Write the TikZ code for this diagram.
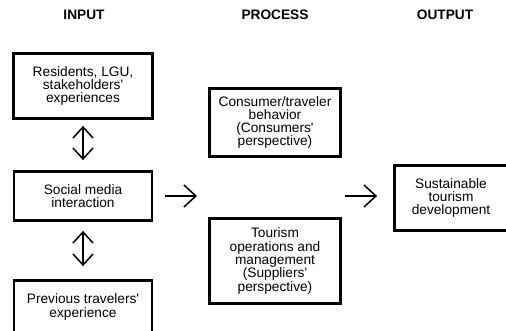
\documentclass[tikz,border=0pt]{standalone}
\usepackage{fontspec}
\setmainfont{Liberation Sans}
\usepackage{tikz}
\usetikzlibrary{arrows.meta,positioning}

\newcommand{\apos}{\textquotesingle}

\begin{document}
\begin{tikzpicture}[
  x=1pt, y=-1pt,
  every node/.style={font=\fontsize{13.7}{13.3}\selectfont},
  head/.style={font=\fontsize{13.7}{13.3}\selectfont\bfseries},
  box/.style={draw, line width=2.8pt, align=center, inner sep=0pt},
  arr/.style={-{Straight Barb[length=12pt, width=22pt]}, line width=1.5pt},
  dbl/.style={{Straight Barb[length=11pt, width=20pt]}-{Straight Barb[length=11pt, width=20pt]}, line width=1.5pt}
]
\useasboundingbox (0,0) rectangle (506,331);
\clip (0,0) rectangle (506,331);

% column titles
\node[head] (hin) at (84,15) {INPUT};
\node[head] (hproc) at (275,15) {PROCESS};
\node[head] (hout) at (445,15) {OUTPUT};

% input
\node[box, minimum width=139pt, minimum height=65pt] (res) at (83,86) {Residents, LGU,\\stakeholders\apos\\experiences};
\node[box, minimum width=138pt, minimum height=49pt] (soc) at (83,196) {Social media\\interaction};
\node[box, minimum width=138pt, minimum height=53pt] (prev) at (83,307) {Previous travelers\apos\\experience};

% process
\node[box, minimum width=131pt, minimum height=68pt] (cons) at (275,122.5) {Consumer/traveler\\behavior\\(Consumers\apos\\perspective)};
\node[box, minimum width=131pt, minimum height=85pt] (tour) at (275,261) {Tourism\\operations and\\management\\(Suppliers\apos\\perspective)};
\coordinate (pin) at (206,196);
\coordinate (pout) at (342,196);

% output
\node[box, minimum width=113pt, minimum height=65pt] (sust) at (451,198) {Sustainable\\tourism\\development};

\draw[dbl, shorten <=6pt, shorten >=10pt] (res) -- (soc);
\draw[dbl, shorten <=9pt, shorten >=13pt] (soc) -- (prev);
\draw[arr, shorten <=12pt, shorten >=9pt] (soc) -- (pin);
\draw[arr, shorten <=3pt, shorten >=16pt] (pout) -- (pout -| sust.west);
\end{tikzpicture}
\end{document}
